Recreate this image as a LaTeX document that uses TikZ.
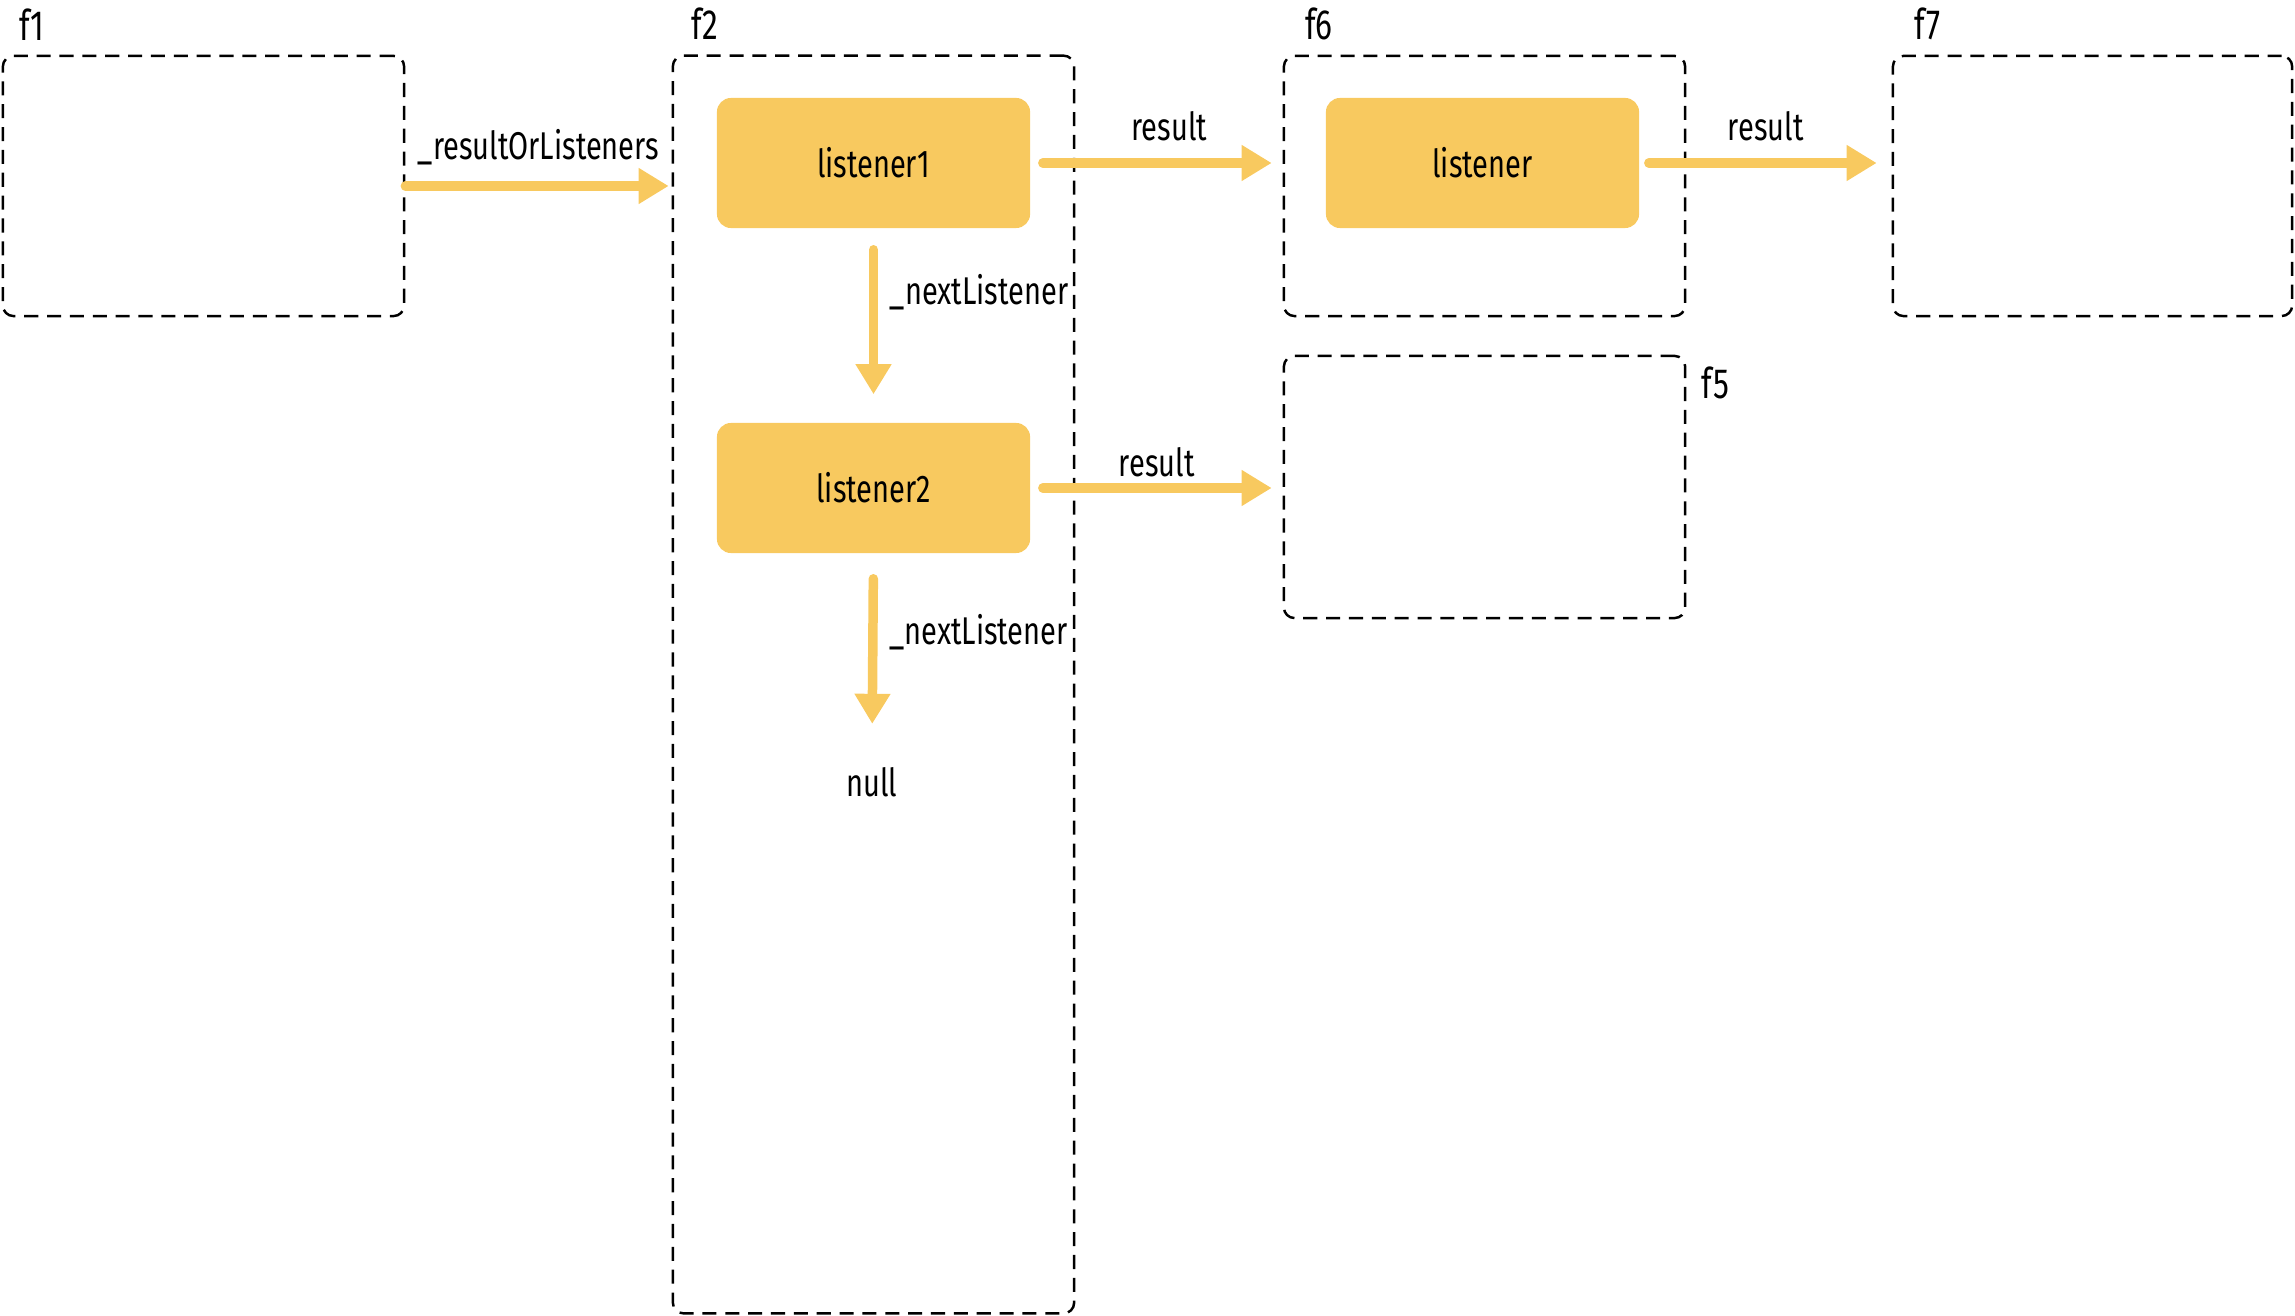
\documentclass[tikz,border=0pt]{standalone}
\usepackage{fontspec}
\setmainfont{Fira Sans}[FakeStretch=0.75]
\usetikzlibrary{arrows.meta,positioning}

\definecolor{lstyellow}{RGB}{248,201,95}

\tikzset{
  frame/.style={draw, dash pattern=on 4pt off 2.5pt, line width=0.7pt,
    rounded corners=3pt, minimum width=4.01cm, minimum height=2.60cm},
  lstbox/.style={fill=lstyellow, rounded corners=4pt, minimum width=3.13cm,
    minimum height=1.30cm, font=\fontsize{11}{12}\selectfont},
  link/.style={lstyellow, line width=2.7pt, line cap=round,
    -{Triangle[length=0.3cm, width=0.34cm]}},
  lbl/.style={font=\fontsize{11}{12}\selectfont, text=black},
  tag/.style={font=\fontsize{12}{13}\selectfont}
}

\begin{document}
\begin{tikzpicture}[x=0.01cm, y=-0.01cm]
        \useasboundingbox (0,0) rectangle (2295,1316);

        % 1. 点線の枠 (f1, f2, f6, f7, f5)
        \node[frame] (f1) at (203.5,186) {};
        \node[frame, minimum height=12.57cm] (f2) at (873.5,684.5) {};
        \node[frame] (f6) at (1484.5,186) {};
        \node[frame, minimum width=3.99cm] (f7) at (2092.5,186) {};
        \node[frame, minimum height=2.62cm] (f5) at (1484.5,487) {};

        % 枠の名前
        \node[tag, above right=0.02cm and 0.05cm] (t1) at (f1.north west) {f1};
        \node[tag, above right=0.02cm and 0.07cm] (t2) at (f2.north west) {f2};
        \node[tag, above right=0.02cm and 0.1cm] (t6) at (f6.north west) {f6};
        \node[tag, above right=0.02cm and 0.1cm] (t7) at (f7.north west) {f7};
        \node[tag, below right=0cm and 0.03cm] (t5) at (f5.north east) {f5};

        % 2. リスナーのボックス
        \node[lstbox] (l1) at (873.5,163) {listener1};
        \node[lstbox] (l2) at (873.5,488) {listener2};
        \node[lstbox] (l0) at (1482.5,163) {listener};
        \node[lbl] (nul) at (872,782) {null};

        % 3. 矢印とラベル
        \draw[link, shorten >=0.03cm] (f1.east) -- (f1.east -| f2.west)
            node[lbl, midway, above=1.3pt] {\_resultOrListeners};
        \draw[link, shorten <=0.12cm, shorten >=0.11cm] (l1.east) -- (l1.east -| f6.west)
            node[lbl, pos=0.55, above=1.5pt] {result};
        \draw[link, shorten <=0.09cm, shorten >=0.15cm] (l0.east) -- (l0.east -| f7.west)
            node[lbl, midway, above=1.5pt] {result};
        \draw[link, shorten <=0.12cm, shorten >=0.11cm] (l2.east) -- (l2.east -| f5.west)
            node[lbl, midway, above=-1.5pt] {result};

        % 次のリスナー
        \draw[link, shorten <=0.21cm, shorten >=0.28cm] (l1.south) -- (l2.north)
            node[lbl, pos=0.33, right] {\_nextListener};
        \draw[link, shorten <=0.25cm, shorten >=0.31cm] (l2.south) -- (nul.north)
            node[lbl, pos=0.39, right] {\_nextListener};
    \end{tikzpicture}
\end{document}
